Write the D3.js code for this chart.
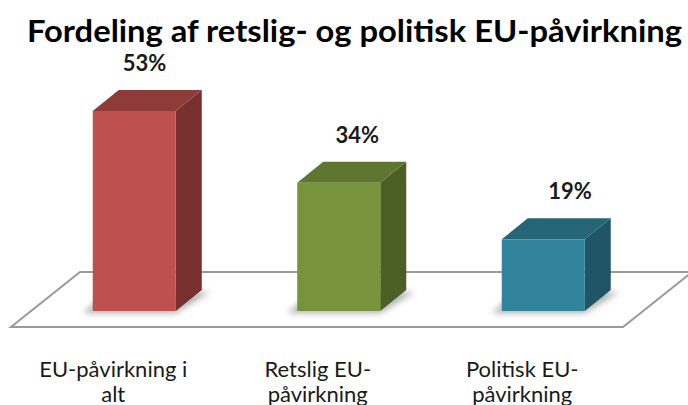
<!DOCTYPE html>
<html>
<head>
<meta charset="utf-8">
<script src="https://cdn.jsdelivr.net/npm/d3@7"></script>
<style>
  html, body { margin: 0; padding: 0; background: #fff; }
  svg { display: block; font-family: Lato, "Open Sans", sans-serif; }
</style>
</head>
<body>
<div id="chart"></div>
<script>
(function () {
  // data
  const categories = ["EU-påvirkning i alt", "Retslig EU-påvirkning", "Politisk EU-påvirkning"];
  const categoryLines = [["EU-påvirkning i", "alt"], ["Retslig EU-", "påvirkning"], ["Politisk EU-", "påvirkning"]];
  const values = [53, 34, 19];
  const valueLabels = ["53%", "34%", "19%"];
  const title = "Fordeling af retslig- og politisk EU-påvirkning";

  const fronts = ["#c0504d", "#77933c", "#31849b"];
  const tops   = ["#8f3b39", "#5e7630", "#256676"];
  const sides  = ["#77302e", "#4c6026", "#1f5564"];

  const width = 688, height = 405;
  const depthX = 26, depthY = -21;   // 3d offset of the bars

  const svg = d3.select("#chart").append("svg")
    .attr("width", width)
    .attr("height", height);

  const defs = svg.append("defs");
  defs.append("filter").attr("id", "blur")
    .attr("x", "-50%").attr("y", "-50%").attr("width", "200%").attr("height", "200%")
    .append("feGaussianBlur").attr("stdDeviation", 3);

  const x = d3.scaleBand()
    .domain(categories)
    .range([32, 645.5])
    .paddingInner(0.594)
    .paddingOuter(0.297);

  const y = d3.scaleLinear()
    .domain([0, 53])
    .range([311, 111]);

  // floor
  const floorFront = 327, floorBack = 272;
  svg.append("polygon")
    .attr("points", [[11, floorFront], [623, floorFront], [692, floorBack], [80, floorBack]].map(p => p.join(",")).join(" "))
    .attr("fill", "#fff")
    .attr("stroke", "#9a9a9a")
    .attr("stroke-width", 2);

  const bars = svg.selectAll(".bar")
    .data(values)
    .join("g")
    .attr("class", "bar");

  // soft shadow on the floor
  bars.append("polygon")
    .attr("points", (d, i) => {
      const x0 = x(categories[i]) - 10, x1 = x(categories[i]) + x.bandwidth();
      const yb = y(0) + 2;
      return [[x0, yb], [x1, yb], [x1 + depthX + 8, yb + depthY], [x0 + depthX, yb + depthY]].map(p => p.join(",")).join(" ");
    })
    .attr("fill", "#6e6e6e")
    .attr("opacity", 0.55)
    .attr("filter", "url(#blur)");

  // side face
  bars.append("polygon")
    .attr("points", (d, i) => {
      const x1 = x(categories[i]) + x.bandwidth();
      return [[x1, y(d)], [x1 + depthX, y(d) + depthY], [x1 + depthX, y(0) + depthY], [x1, y(0)]].map(p => p.join(",")).join(" ");
    })
    .attr("fill", (d, i) => sides[i]);

  // top face
  bars.append("polygon")
    .attr("points", (d, i) => {
      const x0 = x(categories[i]), x1 = x0 + x.bandwidth();
      return [[x0, y(d)], [x1, y(d)], [x1 + depthX, y(d) + depthY], [x0 + depthX, y(d) + depthY]].map(p => p.join(",")).join(" ");
    })
    .attr("fill", (d, i) => tops[i]);

  // front face
  bars.append("rect")
    .attr("x", (d, i) => x(categories[i]))
    .attr("y", d => y(d))
    .attr("width", x.bandwidth())
    .attr("height", d => y(0) - y(d))
    .attr("fill", (d, i) => fronts[i]);

  // value labels (slight perspective shift to the right)
  bars.append("text")
    .attr("x", (d, i) => {
      const cx = x(categories[i]) + x.bandwidth() / 2;
      return cx + 5 + cx * 0.04;
    })
    .attr("y", d => y(d) - 40)
    .attr("text-anchor", "middle")
    .attr("fill", "#1a1a1a")
    .style("font-size", "22px")
    .style("font-weight", 700)
    .text((d, i) => valueLabels[i]);

  // category labels
  const catG = svg.selectAll(".cat")
    .data(categoryLines)
    .join("text")
    .attr("class", "cat")
    .attr("text-anchor", "middle")
    .attr("fill", "#1a1a1a")
    .style("font-size", "22px");

  catG.selectAll("tspan")
    .data((d, i) => d.map((t, j) => ({ t, j, i })))
    .join("tspan")
    .attr("x", d => x(categories[d.i]) + x.bandwidth() / 2 - 21)
    .attr("y", d => 377 + d.j * 25)
    .text(d => d.t);

  // title
  svg.append("text")
    .attr("x", 27)
    .attr("y", 42)
    .attr("fill", "#000")
    .attr("textLength", 655)
    .attr("lengthAdjust", "spacingAndGlyphs")
    .style("font-size", "30px")
    .style("font-weight", 700)
    .text(title);
})();
</script>
</body>
</html>
